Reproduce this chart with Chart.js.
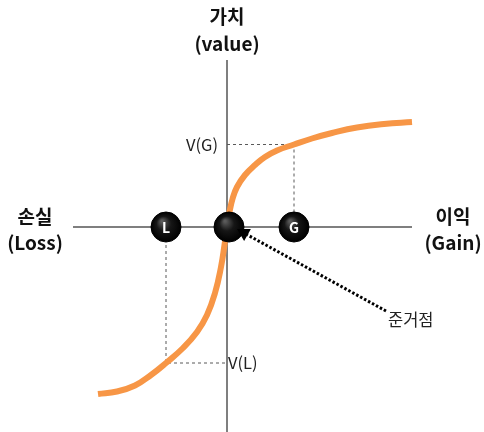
<!DOCTYPE html>
<html>
<head>
<meta charset="utf-8">
<script src="https://cdn.jsdelivr.net/npm/chart.js@4"></script>
<style>
  body { margin: 0; background: #fff; }
  .wrap { width: 484px; height: 432px; position: relative; }
</style>
</head>
<body>
<div class="wrap"><canvas id="valueChart"></canvas></div>
<script>
// value function (prospect theory)
const curveX = [-129, -110, -92, -76, -61, -44, -30, -20, -12, -6, -2.5, 0, 2.5, 5.5, 10, 18, 28, 38, 50, 67, 85, 105, 130, 157, 185];
const curveY = [-167, -164.5, -158.5, -148, -136, -121, -105, -88, -66, -40, -18, 0, 15, 28, 40, 52, 62, 70, 76.5, 82.5, 88.5, 94, 99.5, 103, 105];

const markerX = [-61, 2, 67];
const markerLabels = ['L', '', 'G'];

const gainX = 67, gainV = 82.5;
const lossX = -61, lossV = -136;

const xAxisRange = [-154, 185];
const yAxisRange = [-205, 167];

// reference point arrow (tail -> head)
const arrowX = [159, 17];
const arrowY = [-84, -6];

const toPts = (xs, ys) => xs.map((x, i) => ({ x: x, y: ys[i] }));

const FONT = "'Noto Sans CJK KR', 'Noto Sans', sans-serif";

const textPlugin = {
    id: 'texts',
    afterDatasetsDraw(chart) {
        const c = chart.ctx;
        const sx = chart.scales.x, sy = chart.scales.y;
        const ox = sx.getPixelForValue(0), oy = sy.getPixelForValue(0);

        // letters on markers
        const meta = chart.getDatasetMeta(5);
        c.save();
        c.fillStyle = '#fff';
        c.font = 'bold 14px ' + FONT;
        c.textAlign = 'center';
        c.textBaseline = 'middle';
        meta.data.forEach((p, i) => {
            if (markerLabels[i]) c.fillText(markerLabels[i], p.x, p.y + 1);
        });

        // axis titles
        c.fillStyle = '#111';
        c.font = 'bold 19px ' + FONT;
        c.fillText('가치', ox, 17);
        c.fillText('(value)', ox, 44);
        c.fillText('손실', 35, oy - 10);
        c.fillText('(Loss)', 35, oy + 16);
        c.fillText('이익', 453, oy - 10);
        c.fillText('(Gain)', 453, oy + 16);

        // value labels
        c.font = '16.5px ' + FONT;
        c.fillStyle = '#222';
        c.textAlign = 'right';
        c.fillText('V(G)', ox - 9, sy.getPixelForValue(gainV));
        c.textAlign = 'left';
        c.fillText('V(L)', ox + 1, sy.getPixelForValue(lossV));
        c.fillText('준거점', sx.getPixelForValue(arrowX[0]) + 2, sy.getPixelForValue(arrowY[0]) + 9);
        c.restore();
    }
};

const ctx = document.getElementById('valueChart');

new Chart(ctx, {
    type: 'scatter',
    data: {
        datasets: [
            {
                // horizontal axis
                data: [{ x: xAxisRange[0], y: 0 }, { x: xAxisRange[1], y: 0 }],
                showLine: true,
                borderColor: '#7f7f7f',
                borderWidth: 2,
                pointRadius: 0,
                order: 9
            },
            {
                // vertical axis
                data: [{ x: 0, y: yAxisRange[0] }, { x: 0, y: yAxisRange[1] }],
                showLine: true,
                borderColor: '#7f7f7f',
                borderWidth: 2,
                pointRadius: 0,
                order: 9
            },
            {
                data: [{ x: 0, y: gainV }, { x: gainX, y: gainV }, { x: gainX, y: 0 }],
                showLine: true,
                borderColor: '#595959',
                borderWidth: 1,
                borderDash: [3, 3],
                pointRadius: 0,
                order: 8
            },
            {
                data: [{ x: lossX, y: 0 }, { x: lossX, y: lossV }, { x: 0, y: lossV }],
                showLine: true,
                borderColor: '#595959',
                borderWidth: 1,
                borderDash: [3, 3],
                pointRadius: 0,
                order: 8
            },
            {
                // value curve
                data: toPts(curveX, curveY),
                showLine: true,
                borderColor: '#f79646',
                borderWidth: 6,
                borderCapStyle: 'butt',
                tension: 0.45,
                pointRadius: 0,
                order: 7
            },
            {
                // markers L, reference point, G
                data: markerX.map(x => ({ x: x, y: 0 })),
                pointRadius: 15,
                borderColor: '#000',
                borderWidth: 1,
                backgroundColor: function (context) {
                    const chart = context.chart;
                    if (!chart.chartArea || !context.raw) return '#000';
                    const px = chart.scales.x.getPixelForValue(context.raw.x);
                    const py = chart.scales.y.getPixelForValue(context.raw.y);
                    const g = chart.ctx.createRadialGradient(px - 4, py - 6, 1, px, py, 15);
                    g.addColorStop(0, '#5a5a5a');
                    g.addColorStop(0.45, '#161616');
                    g.addColorStop(1, '#000');
                    return g;
                },
                order: 2
            },
            {
                // arrow to the reference point
                data: toPts(arrowX, arrowY),
                showLine: true,
                borderColor: '#000',
                borderWidth: 3,
                borderDash: [2.5, 2],
                pointRadius: [0, 5],
                pointStyle: 'triangle',
                rotation: -61,
                backgroundColor: '#000',
                order: 1
            }
        ]
    },
    options: {
        responsive: true,
        maintainAspectRatio: false,
        animation: false,
        layout: { padding: 0, autoPadding: false },
        scales: {
            x: { type: 'linear', min: -227, max: 257, display: false },
            y: { type: 'linear', min: -205, max: 227, display: false }
        },
        plugins: {
            legend: { display: false },
            tooltip: { enabled: false }
        }
    },
    plugins: [textPlugin]
});
</script>
</body>
</html>
